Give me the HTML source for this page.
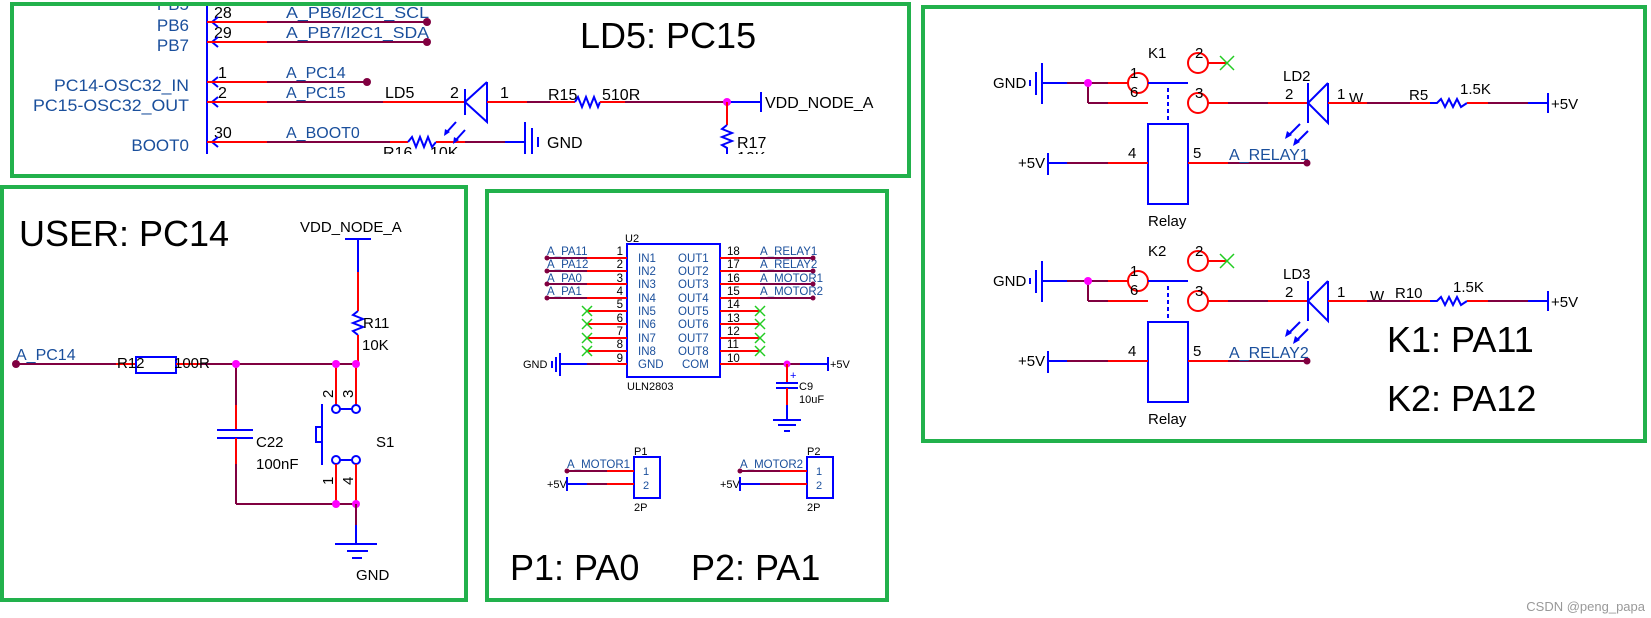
<!DOCTYPE html>
<html><head><meta charset="utf-8"><style>
html,body{margin:0;padding:0;background:#fff;}
svg{display:block;font-family:"Liberation Sans",Arial,sans-serif;}
.r{stroke:#ff0000;stroke-width:2;fill:none}
.m{stroke:#800040;stroke-width:2;fill:none}
.b{stroke:#0000ff;stroke-width:2;fill:none}
.g{stroke:#22b14c;stroke-width:4;fill:none}
.x{stroke:#22cc22;stroke-width:1.5}
.nl{fill:#1a4f9c}
.t{fill:#000}
.big{font-size:36px;fill:#000}
</style></head><body>
<svg width="1651" height="618" viewBox="0 0 1651 618" xmlns="http://www.w3.org/2000/svg">
<!-- frames -->
<rect class="g" x="12" y="4" width="897" height="172"/>
<rect class="g" x="2" y="187" width="464" height="413"/>
<rect class="g" x="487" y="191" width="400" height="409"/>
<rect class="g" x="923" y="7" width="722" height="434"/>

<!-- ===== Top panel ===== -->
<defs><clipPath id="ca"><rect x="14" y="6" width="893" height="148"/></clipPath></defs>
<g clip-path="url(#ca)">
<line class="b" x1="207" y1="6" x2="207" y2="160"/>
<g font-size="17" class="nl" text-anchor="end">
<text x="189" y="10">PB5</text>
<text x="189" y="31">PB6</text>
<text x="189" y="51">PB7</text>
<text x="189" y="91" textLength="135" lengthAdjust="spacingAndGlyphs">PC14-OSC32_IN</text>
<text x="189" y="111" textLength="156" lengthAdjust="spacingAndGlyphs">PC15-OSC32_OUT</text>
<text x="189" y="151">BOOT0</text>
</g>
<g font-size="16" class="t">
<text x="214" y="18">28</text><text x="214" y="38">29</text>
<text x="218" y="78">1</text><text x="218" y="98">2</text><text x="214" y="138">30</text>
</g>
<g font-size="16" class="nl">
<text x="286" y="18" textLength="143" lengthAdjust="spacingAndGlyphs">A_PB6/I2C1_SCL</text>
<text x="286" y="38" textLength="143" lengthAdjust="spacingAndGlyphs">A_PB7/I2C1_SDA</text>
<text x="286" y="78">A_PC14</text>
<text x="286" y="98">A_PC15</text>
<text x="286" y="138">A_BOOT0</text>
</g>
<!-- pin marks -->
<g class="b" stroke-width="1.5">
<polyline points="218,17 212,22 218,27"/><polyline points="218,37 212,42 218,47"/>
<polyline points="218,77 212,82 218,87"/><polyline points="218,97 212,102 218,107"/>
<polyline points="218,137 212,142 218,147"/>
</g>
<line class="r" x1="207" y1="22" x2="267" y2="22"/><line class="m" x1="267" y1="22" x2="427" y2="22"/><circle cx="427" cy="22" r="4" fill="#800040"/>
<line class="r" x1="207" y1="42" x2="267" y2="42"/><line class="m" x1="267" y1="42" x2="427" y2="42"/><circle cx="427" cy="42" r="4" fill="#800040"/>
<line class="r" x1="207" y1="82" x2="267" y2="82"/><line class="m" x1="267" y1="82" x2="367" y2="82"/><circle cx="367" cy="82" r="4" fill="#800040"/>
<line class="r" x1="207" y1="102" x2="267" y2="102"/><line class="m" x1="267" y1="102" x2="383" y2="102"/><line class="r" x1="383" y1="102" x2="465" y2="102"/>
<line class="b" x1="465" y1="89" x2="465" y2="115"/>
<polyline class="b" points="487,82 465,102 487,122 487,82"/>
<line class="r" x1="487" y1="102" x2="527" y2="102"/><line class="m" x1="527" y1="102" x2="550" y2="102"/><line class="r" x1="550" y1="102" x2="575" y2="102"/>
<polyline class="b" points="575,102 578,97 582,107 586,97 590,107 594,97 598,107 600,102"/>
<line class="r" x1="600" y1="102" x2="625" y2="102"/><line class="m" x1="625" y1="102" x2="727" y2="102"/>
<line class="b" x1="727" y1="102" x2="761" y2="102"/><line class="b" x1="761" y1="92" x2="761" y2="112"/>
<circle cx="727" cy="102" r="4" fill="#ff00ff"/>
<line class="r" x1="727" y1="102" x2="727" y2="125"/>
<polyline class="b" points="727,125 722,129 732,133 722,137 732,141 722,145 727,148 727,160"/>
<g font-size="16" class="t">
<text x="385" y="98">LD5</text><text x="450" y="98">2</text><text x="500" y="98">1</text>
<text x="548" y="100">R15</text><text x="602" y="100">510R</text>
<text x="765" y="108">VDD_NODE_A</text>
<text x="737" y="148">R17</text><text x="737" y="163">10K</text>
<text x="547" y="148">GND</text>
<text x="383" y="158">R16</text><text x="430" y="158">10K</text>
</g>
<line class="r" x1="207" y1="142" x2="267" y2="142"/><line class="m" x1="267" y1="142" x2="390" y2="142"/><line class="r" x1="390" y1="142" x2="408" y2="142"/>
<polyline class="b" points="408,142 412,137 416,147 420,137 424,147 428,137 432,147 436,142"/>
<line class="r" x1="436" y1="142" x2="465" y2="142"/><line class="m" x1="465" y1="142" x2="505" y2="142"/><line class="b" x1="505" y1="142" x2="525" y2="142"/>
<line class="b" x1="525" y1="122" x2="525" y2="160"/><line class="b" x1="532" y1="128" x2="532" y2="156"/><line class="b" x1="538" y1="137" x2="538" y2="147"/>
<g class="b" stroke-width="1.5"><line x1="456" y1="122" x2="446" y2="133"/><line x1="465" y1="130" x2="455" y2="141"/></g>
<polygon points="444,136 445,129 450,132" fill="#0000ff"/><polygon points="453,144 454,137 459,140" fill="#0000ff"/>
</g>
<text class="big" x="580" y="48">LD5: PC15</text>

<!-- ===== Left bottom panel ===== -->
<text class="big" x="19" y="246">USER: PC14</text>
<text x="300" y="232" font-size="15" class="t">VDD_NODE_A</text>
<line class="b" x1="345" y1="239" x2="371" y2="239"/>
<line class="b" x1="358" y1="239" x2="358" y2="272"/><line class="r" x1="358" y1="272" x2="358" y2="311"/>
<polyline class="b" points="358,311 353,315 363,319 353,323 363,327 353,331 358,335"/>
<line class="r" x1="358" y1="335" x2="358" y2="364"/>
<text x="363" y="328" font-size="15" class="t">R11</text><text x="362" y="350" font-size="15" class="t">10K</text>
<circle cx="16" cy="364" r="4" fill="#800040"/>
<line class="m" x1="16" y1="364" x2="116" y2="364"/><line class="r" x1="116" y1="364" x2="136" y2="364"/>
<rect class="b" x="136" y="357" width="40" height="16"/>
<line class="r" x1="176" y1="364" x2="200" y2="364"/><line class="m" x1="200" y1="364" x2="358" y2="364"/>
<text x="16" y="360" font-size="16" class="nl">A_PC14</text>
<text x="117" y="368" font-size="15" class="t">R12</text><text x="174" y="368" font-size="15" class="t">100R</text>
<line class="m" x1="236" y1="364" x2="236" y2="405"/><line class="r" x1="236" y1="405" x2="236" y2="430"/>
<line class="b" x1="217" y1="430" x2="253" y2="430"/><line class="b" x1="217" y1="438" x2="253" y2="438"/>
<line class="r" x1="236" y1="438" x2="236" y2="464"/><line class="m" x1="236" y1="464" x2="236" y2="504"/>
<line class="m" x1="236" y1="504" x2="356" y2="504"/>
<text x="256" y="447" font-size="15" class="t">C22</text><text x="256" y="469" font-size="15" class="t">100nF</text>
<line class="r" x1="336" y1="364" x2="336" y2="405"/><line class="r" x1="356" y1="364" x2="356" y2="405"/>
<line class="b" x1="340" y1="409" x2="352" y2="409"/>
<circle cx="336" cy="409" r="4" fill="#fff" stroke="#0000ff" stroke-width="2"/><circle cx="356" cy="409" r="4" fill="#fff" stroke="#0000ff" stroke-width="2"/>
<line class="b" x1="340" y1="460" x2="352" y2="460"/>
<circle cx="336" cy="460" r="4" fill="#fff" stroke="#0000ff" stroke-width="2"/><circle cx="356" cy="460" r="4" fill="#fff" stroke="#0000ff" stroke-width="2"/>
<line class="r" x1="336" y1="464" x2="336" y2="504"/><line class="r" x1="356" y1="464" x2="356" y2="504"/>
<line class="b" x1="322" y1="404" x2="322" y2="465" stroke-width="3"/>
<rect class="b" x="316" y="427" width="6" height="15"/>
<g font-size="15" class="t">
<text transform="translate(333,398) rotate(-90)">2</text><text transform="translate(353,398) rotate(-90)">3</text>
<text transform="translate(333,485) rotate(-90)">1</text><text transform="translate(353,485) rotate(-90)">4</text>
<text x="376" y="447">S1</text><text x="356" y="580">GND</text>
</g>
<circle cx="236" cy="364" r="4" fill="#ff00ff"/><circle cx="336" cy="364" r="4" fill="#ff00ff"/><circle cx="356" cy="364" r="4" fill="#ff00ff"/>
<circle cx="336" cy="504" r="4" fill="#ff00ff"/><circle cx="356" cy="504" r="4" fill="#ff00ff"/>
<line class="m" x1="356" y1="504" x2="356" y2="525"/><line class="b" x1="356" y1="525" x2="356" y2="544"/>
<line class="b" x1="335" y1="544" x2="377" y2="544"/><line class="b" x1="347" y1="551" x2="368" y2="551"/><line class="b" x1="352" y1="558" x2="362" y2="558"/>

<!-- ===== Middle panel ===== -->
<rect class="b" x="627" y="244" width="93" height="133"/>
<text x="625" y="242" font-size="11" class="t">U2</text>
<text x="627" y="390" font-size="11" class="t">ULN2803</text>
<g font-size="11.5" class="nl">
<text x="638" y="262">IN1</text><text x="638" y="275">IN2</text><text x="638" y="288">IN3</text><text x="638" y="302">IN4</text>
<text x="638" y="315">IN5</text><text x="638" y="328">IN6</text><text x="638" y="342">IN7</text><text x="638" y="355">IN8</text><text x="638" y="368">GND</text>
<text x="678" y="262">OUT1</text><text x="678" y="275">OUT2</text><text x="678" y="288">OUT3</text><text x="678" y="302">OUT4</text>
<text x="678" y="315">OUT5</text><text x="678" y="328">OUT6</text><text x="678" y="342">OUT7</text><text x="678" y="355">OUT8</text><text x="682" y="368">COM</text>
</g>
<g font-size="11.5" class="t" text-anchor="end">
<text x="623" y="255">1</text><text x="623" y="268">2</text><text x="623" y="282">3</text><text x="623" y="295">4</text>
<text x="623" y="308">5</text><text x="623" y="322">6</text><text x="623" y="335">7</text><text x="623" y="348">8</text><text x="623" y="362">9</text>
</g>
<g font-size="11.5" class="t">
<text x="727" y="255">18</text><text x="727" y="268">17</text><text x="727" y="282">16</text><text x="727" y="295">15</text>
<text x="727" y="308">14</text><text x="727" y="322">13</text><text x="727" y="335">12</text><text x="727" y="348">11</text><text x="727" y="362">10</text>
</g>
<g font-size="11.5" class="nl">
<text x="547" y="255">A_PA11</text><text x="547" y="268">A_PA12</text><text x="547" y="282">A_PA0</text><text x="547" y="295">A_PA1</text>
<text x="760" y="255">A_RELAY1</text><text x="760" y="268">A_RELAY2</text><text x="760" y="282">A_MOTOR1</text><text x="760" y="295">A_MOTOR2</text>
</g>
<g>
<line class="m" x1="547" y1="258" x2="587" y2="258"/><line class="r" x1="587" y1="258" x2="627" y2="258"/>
<line class="m" x1="547" y1="271" x2="587" y2="271"/><line class="r" x1="587" y1="271" x2="627" y2="271"/>
<line class="m" x1="547" y1="284" x2="587" y2="284"/><line class="r" x1="587" y1="284" x2="627" y2="284"/>
<line class="m" x1="547" y1="298" x2="587" y2="298"/><line class="r" x1="587" y1="298" x2="627" y2="298"/>
<circle cx="547" cy="258" r="2.5" fill="#800040"/><circle cx="547" cy="271" r="2.5" fill="#800040"/><circle cx="547" cy="284" r="2.5" fill="#800040"/><circle cx="547" cy="298" r="2.5" fill="#800040"/>
<line class="r" x1="587" y1="311" x2="627" y2="311"/><line class="r" x1="587" y1="324" x2="627" y2="324"/>
<line class="r" x1="587" y1="338" x2="627" y2="338"/><line class="r" x1="587" y1="351" x2="627" y2="351"/>
<line class="b" x1="560" y1="364" x2="587" y2="364"/><line class="m" x1="587" y1="364" x2="600" y2="364"/><line class="r" x1="600" y1="364" x2="627" y2="364"/>
<line class="b" x1="560" y1="353" x2="560" y2="376"/><line class="b" x1="556" y1="357" x2="556" y2="372"/><line class="b" x1="552" y1="361" x2="552" y2="368"/>
<text x="523" y="368" font-size="11" class="t">GND</text>
<line class="r" x1="720" y1="258" x2="760" y2="258"/><line class="m" x1="760" y1="258" x2="813" y2="258"/>
<line class="r" x1="720" y1="271" x2="760" y2="271"/><line class="m" x1="760" y1="271" x2="813" y2="271"/>
<line class="r" x1="720" y1="284" x2="760" y2="284"/><line class="m" x1="760" y1="284" x2="813" y2="284"/>
<line class="r" x1="720" y1="298" x2="760" y2="298"/><line class="m" x1="760" y1="298" x2="813" y2="298"/>
<circle cx="813" cy="258" r="2.5" fill="#800040"/><circle cx="813" cy="271" r="2.5" fill="#800040"/><circle cx="813" cy="284" r="2.5" fill="#800040"/><circle cx="813" cy="298" r="2.5" fill="#800040"/>
<line class="r" x1="720" y1="311" x2="760" y2="311"/><line class="r" x1="720" y1="324" x2="760" y2="324"/>
<line class="r" x1="720" y1="338" x2="760" y2="338"/><line class="r" x1="720" y1="351" x2="760" y2="351"/>
<line class="r" x1="720" y1="364" x2="760" y2="364"/><line class="m" x1="760" y1="364" x2="800" y2="364"/><line class="b" x1="800" y1="364" x2="828" y2="364"/>
<line class="b" x1="828" y1="357" x2="828" y2="371"/>
<text x="830" y="368" font-size="11" class="t">+5V</text>
<circle cx="787" cy="364" r="3.5" fill="#ff00ff"/>
<line class="r" x1="787" y1="364" x2="787" y2="383"/>
<line class="b" x1="776" y1="383" x2="798" y2="383"/><line class="b" x1="776" y1="388" x2="798" y2="388"/>
<text x="790" y="379" font-size="11" fill="#0000ff">+</text>
<line class="r" x1="787" y1="388" x2="787" y2="405"/><line class="b" x1="787" y1="405" x2="787" y2="420"/>
<line class="b" x1="773" y1="420" x2="801" y2="420"/><line class="b" x1="778" y1="425" x2="796" y2="425"/><line class="b" x1="784" y1="431" x2="790" y2="431"/>
<text x="799" y="390" font-size="11" class="t">C9</text><text x="799" y="403" font-size="11" class="t">10uF</text>
<g class="x">
<line x1="582" y1="306" x2="592" y2="316"/><line x1="592" y1="306" x2="582" y2="316"/>
<line x1="582" y1="319" x2="592" y2="329"/><line x1="592" y1="319" x2="582" y2="329"/>
<line x1="582" y1="333" x2="592" y2="343"/><line x1="592" y1="333" x2="582" y2="343"/>
<line x1="582" y1="346" x2="592" y2="356"/><line x1="592" y1="346" x2="582" y2="356"/>
<line x1="755" y1="306" x2="765" y2="316"/><line x1="765" y1="306" x2="755" y2="316"/>
<line x1="755" y1="319" x2="765" y2="329"/><line x1="765" y1="319" x2="755" y2="329"/>
<line x1="755" y1="333" x2="765" y2="343"/><line x1="765" y1="333" x2="755" y2="343"/>
<line x1="755" y1="346" x2="765" y2="356"/><line x1="765" y1="346" x2="755" y2="356"/>
</g>
</g>
<!-- P1 / P2 -->
<g>
<rect class="b" x="634" y="457" width="26" height="41"/>
<text x="634" y="455" font-size="11" class="t">P1</text>
<text x="643" y="475" font-size="11" class="nl">1</text><text x="643" y="489" font-size="11" class="nl">2</text>
<text x="567" y="468" font-size="11.5" class="nl">A_MOTOR1</text>
<line class="m" x1="567" y1="471" x2="607" y2="471"/><line class="r" x1="607" y1="471" x2="634" y2="471"/><circle cx="567" cy="471" r="2.5" fill="#800040"/>
<line class="b" x1="567" y1="484" x2="587" y2="484"/><line class="m" x1="587" y1="484" x2="607" y2="484"/><line class="r" x1="607" y1="484" x2="634" y2="484"/>
<line class="b" x1="567" y1="477" x2="567" y2="491"/>
<text x="547" y="488" font-size="11" class="t">+5V</text>
<text x="634" y="511" font-size="11" class="t">2P</text>
<rect class="b" x="807" y="457" width="26" height="41"/>
<text x="807" y="455" font-size="11" class="t">P2</text>
<text x="816" y="475" font-size="11" class="nl">1</text><text x="816" y="489" font-size="11" class="nl">2</text>
<text x="740" y="468" font-size="11.5" class="nl">A_MOTOR2</text>
<line class="m" x1="740" y1="471" x2="780" y2="471"/><line class="r" x1="780" y1="471" x2="807" y2="471"/><circle cx="740" cy="471" r="2.5" fill="#800040"/>
<line class="b" x1="740" y1="484" x2="760" y2="484"/><line class="m" x1="760" y1="484" x2="780" y2="484"/><line class="r" x1="780" y1="484" x2="807" y2="484"/>
<line class="b" x1="740" y1="477" x2="740" y2="491"/>
<text x="720" y="488" font-size="11" class="t">+5V</text>
<text x="807" y="511" font-size="11" class="t">2P</text>
</g>
<text class="big" x="510" y="580">P1: PA0</text>
<text class="big" x="691" y="580">P2: PA1</text>

<!-- ===== Right panel ===== -->
<g id="k1">
<text x="1148" y="58" font-size="15" class="t">K1</text>
<text x="993" y="88" font-size="15" class="t">GND</text>
<line class="b" x1="1030" y1="80" x2="1030" y2="86"/><line class="b" x1="1036" y1="72" x2="1036" y2="95"/><line class="b" x1="1042" y1="63" x2="1042" y2="104"/>
<line class="b" x1="1042" y1="83" x2="1067" y2="83"/><line class="m" x1="1067" y1="83" x2="1108" y2="83"/><line class="r" x1="1108" y1="83" x2="1128" y2="83"/>
<line class="m" x1="1088" y1="83" x2="1088" y2="103"/><line class="m" x1="1088" y1="103" x2="1108" y2="103"/><line class="r" x1="1108" y1="103" x2="1148" y2="103"/>
<circle cx="1088" cy="83" r="4" fill="#ff00ff"/>
<circle cx="1138" cy="83" r="10" fill="none" stroke="#ff0000" stroke-width="2"/>
<line class="b" x1="1148" y1="83" x2="1188" y2="83"/>
<circle cx="1198" cy="63" r="10" fill="none" stroke="#ff0000" stroke-width="2"/>
<line class="r" x1="1208" y1="63" x2="1227" y2="63"/>
<g class="x"><line x1="1220" y1="56" x2="1234" y2="70"/><line x1="1234" y1="56" x2="1220" y2="70"/></g>
<circle cx="1198" cy="103" r="10" fill="none" stroke="#ff0000" stroke-width="2"/>
<line class="r" x1="1208" y1="103" x2="1228" y2="103"/><line class="m" x1="1228" y1="103" x2="1268" y2="103"/><line class="r" x1="1268" y1="103" x2="1308" y2="103"/>
<line class="b" x1="1168" y1="88" x2="1168" y2="124" stroke-dasharray="4,3"/>
<rect class="b" x="1148" y="124" width="40" height="80"/>
<text x="1148" y="226" font-size="15" class="t">Relay</text>
<text x="1018" y="168" font-size="15" class="t">+5V</text>
<line class="b" x1="1048" y1="153" x2="1048" y2="175"/>
<line class="b" x1="1048" y1="163" x2="1067" y2="163"/><line class="m" x1="1067" y1="163" x2="1108" y2="163"/><line class="r" x1="1108" y1="163" x2="1148" y2="163"/>
<line class="r" x1="1188" y1="163" x2="1228" y2="163"/><line class="m" x1="1228" y1="163" x2="1307" y2="163"/>
<circle cx="1307" cy="163" r="3.5" fill="#800040"/>
<g font-size="15" class="t">
<text x="1130" y="78">1</text><text x="1130" y="97">6</text><text x="1195" y="58">2</text><text x="1195" y="98">3</text>
<text x="1128" y="158">4</text><text x="1193" y="158">5</text>
<text x="1285" y="99">2</text><text x="1337" y="99">1</text>
<text x="1409" y="100">R5</text><text x="1460" y="94">1.5K</text>
<text x="1551" y="109">+5V</text>
</g>
<text x="1283" y="81" font-size="15" class="t">LD2</text>
<text x="1349" y="103" font-size="15" class="t">W</text>
<text x="1229" y="160" font-size="16" class="nl">A_RELAY1</text>
<line class="b" x1="1308" y1="83" x2="1308" y2="123"/>
<polyline class="b" points="1328,83 1308,103 1328,123 1328,83"/>
<line class="r" x1="1328" y1="103" x2="1367" y2="103"/><line class="m" x1="1367" y1="103" x2="1410" y2="103"/><line class="r" x1="1410" y1="103" x2="1430" y2="103"/>
<polyline class="b" points="1430,103 1437,103 1441,99 1445,107 1449,99 1453,107 1457,99 1461,107 1467,103"/>
<line class="r" x1="1467" y1="103" x2="1488" y2="103"/><line class="m" x1="1488" y1="103" x2="1528" y2="103"/><line class="b" x1="1528" y1="103" x2="1548" y2="103"/>
<line class="b" x1="1548" y1="93" x2="1548" y2="113"/>
<g class="b" stroke-width="1.5"><line x1="1300" y1="124" x2="1288" y2="136"/><line x1="1308" y1="131" x2="1296" y2="143"/></g>
<polygon points="1285,139 1287,131 1292,135" fill="#0000ff"/><polygon points="1293,146 1295,138 1300,142" fill="#0000ff"/>
</g>
<g transform="translate(0,198)">
<text x="1148" y="58" font-size="15" class="t">K2</text>
<text x="993" y="88" font-size="15" class="t">GND</text>
<line class="b" x1="1030" y1="80" x2="1030" y2="86"/><line class="b" x1="1036" y1="72" x2="1036" y2="95"/><line class="b" x1="1042" y1="63" x2="1042" y2="104"/>
<line class="b" x1="1042" y1="83" x2="1067" y2="83"/><line class="m" x1="1067" y1="83" x2="1108" y2="83"/><line class="r" x1="1108" y1="83" x2="1128" y2="83"/>
<line class="m" x1="1088" y1="83" x2="1088" y2="103"/><line class="m" x1="1088" y1="103" x2="1108" y2="103"/><line class="r" x1="1108" y1="103" x2="1148" y2="103"/>
<circle cx="1088" cy="83" r="4" fill="#ff00ff"/>
<circle cx="1138" cy="83" r="10" fill="none" stroke="#ff0000" stroke-width="2"/>
<line class="b" x1="1148" y1="83" x2="1188" y2="83"/>
<circle cx="1198" cy="63" r="10" fill="none" stroke="#ff0000" stroke-width="2"/>
<line class="r" x1="1208" y1="63" x2="1227" y2="63"/>
<g class="x"><line x1="1220" y1="56" x2="1234" y2="70"/><line x1="1234" y1="56" x2="1220" y2="70"/></g>
<circle cx="1198" cy="103" r="10" fill="none" stroke="#ff0000" stroke-width="2"/>
<line class="r" x1="1208" y1="103" x2="1228" y2="103"/><line class="m" x1="1228" y1="103" x2="1268" y2="103"/><line class="r" x1="1268" y1="103" x2="1308" y2="103"/>
<line class="b" x1="1168" y1="88" x2="1168" y2="124" stroke-dasharray="4,3"/>
<rect class="b" x="1148" y="124" width="40" height="80"/>
<text x="1148" y="226" font-size="15" class="t">Relay</text>
<text x="1018" y="168" font-size="15" class="t">+5V</text>
<line class="b" x1="1048" y1="153" x2="1048" y2="175"/>
<line class="b" x1="1048" y1="163" x2="1067" y2="163"/><line class="m" x1="1067" y1="163" x2="1108" y2="163"/><line class="r" x1="1108" y1="163" x2="1148" y2="163"/>
<line class="r" x1="1188" y1="163" x2="1228" y2="163"/><line class="m" x1="1228" y1="163" x2="1307" y2="163"/>
<circle cx="1307" cy="163" r="3.5" fill="#800040"/>
<g font-size="15" class="t">
<text x="1130" y="78">1</text><text x="1130" y="97">6</text><text x="1195" y="58">2</text><text x="1195" y="98">3</text>
<text x="1128" y="158">4</text><text x="1193" y="158">5</text>
<text x="1285" y="99">2</text><text x="1337" y="99">1</text>
<text x="1395" y="100">R10</text><text x="1453" y="94">1.5K</text>
<text x="1551" y="109">+5V</text>
</g>
<text x="1283" y="81" font-size="15" class="t">LD3</text>
<text x="1370" y="103" font-size="15" class="t">W</text>
<text x="1229" y="160" font-size="16" class="nl">A_RELAY2</text>
<line class="b" x1="1308" y1="83" x2="1308" y2="123"/>
<polyline class="b" points="1328,83 1308,103 1328,123 1328,83"/>
<line class="r" x1="1328" y1="103" x2="1367" y2="103"/><line class="m" x1="1367" y1="103" x2="1410" y2="103"/><line class="r" x1="1410" y1="103" x2="1430" y2="103"/>
<polyline class="b" points="1430,103 1437,103 1441,99 1445,107 1449,99 1453,107 1457,99 1461,107 1467,103"/>
<line class="r" x1="1467" y1="103" x2="1488" y2="103"/><line class="m" x1="1488" y1="103" x2="1528" y2="103"/><line class="b" x1="1528" y1="103" x2="1548" y2="103"/>
<line class="b" x1="1548" y1="93" x2="1548" y2="113"/>
<g class="b" stroke-width="1.5"><line x1="1300" y1="124" x2="1288" y2="136"/><line x1="1308" y1="131" x2="1296" y2="143"/></g>
<polygon points="1285,139 1287,131 1292,135" fill="#0000ff"/><polygon points="1293,146 1295,138 1300,142" fill="#0000ff"/>
</g>
<text class="big" x="1387" y="352">K1: PA11</text>
<text class="big" x="1387" y="411">K2: PA12</text>
<text x="1645" y="611" font-size="13" fill="#999" text-anchor="end">CSDN @peng_papa</text>
</svg>
</body></html>
